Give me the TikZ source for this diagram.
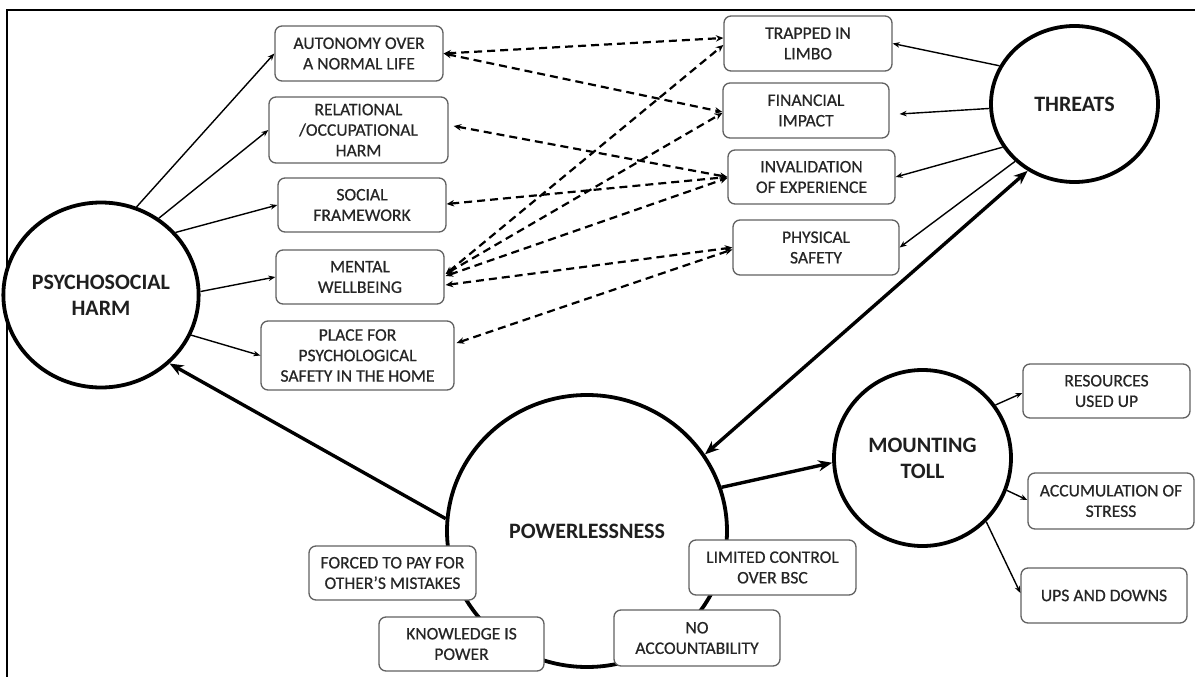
\documentclass[tikz,border=0pt]{standalone}
\usepackage{fontspec}
\setmainfont{Carlito}
\newfontfamily\boxfont{Carlito}[FakeBold=0.6]
\usetikzlibrary{arrows.meta,shapes.geometric}
\begin{document}
\begin{tikzpicture}[x=1pt,y=-1pt,
 box/.style={draw=black!62, line width=1.3pt, rounded corners=7pt, fill=white, align=center, inner sep=0pt, font=\boxfont\fontsize{17.6}{20.5}\selectfont, text=black!85},
 hub/.style={ellipse, draw=black, line width=3.8pt, fill=white, align=center, inner sep=0pt, font=\fontsize{22}{26}\selectfont\bfseries, text=black!88},
 thinarr/.style={-{Stealth[length=7pt,width=5.5pt]}, line width=1.4pt},
 thickarr/.style={-{Stealth[length=14pt,width=11pt]}, line width=3.4pt},
 dsh/.style={{Stealth[length=7.5pt,width=6.5pt]}-{Stealth[length=7.5pt,width=6.5pt]}, line width=2.2pt, dash pattern=on 8pt off 5pt},
 frame/.style={line width=1.6pt}
]
\useasboundingbox (0,0) rectangle (1195,677);
\coordinate (fb) at (7,677);
\coordinate (fc) at (7,10);
\coordinate (fr) at (1195,10);
\draw[frame] (fb) -- (fc) -- (fr);

% hubs
\node[hub, minimum width=176pt, minimum height=185pt] (psy) at (101,295) {PSYCHOSOCIAL\\HARM};
\node[hub, minimum width=167pt, minimum height=156pt] (thr) at (1074.5,104) {THREATS};
\node[hub, minimum width=280pt, minimum height=272pt] (pow) at (587,531) {POWERLESSNESS};
\node[hub, minimum width=177pt, minimum height=176pt] (mt) at (922.5,458) {MOUNTING\\TOLL};

% left boxes
\node[box, minimum width=168pt, minimum height=55pt] (auto) at (359,53.5) {AUTONOMY OVER\\A NORMAL LIFE};
\node[box, minimum width=179pt, minimum height=66pt] (rel) at (358.5,130) {RELATIONAL\\/OCCUPATIONAL\\HARM};
\node[box, minimum width=168pt, minimum height=54pt] (soc) at (362,205) {SOCIAL\\FRAMEWORK};
\node[box, minimum width=168pt, minimum height=54pt] (ment) at (360,277) {MENTAL\\WELLBEING};
\node[box, minimum width=193pt, minimum height=69pt] (place) at (357.5,355.5) {PLACE FOR\\PSYCHOLOGICAL\\SAFETY IN THE HOME};

% middle boxes
\node[box, minimum width=168pt, minimum height=55pt] (trap) at (808,43.5) {TRAPPED IN\\LIMBO};
\node[box, minimum width=166pt, minimum height=55pt] (fin) at (806,110.5) {FINANCIAL\\IMPACT};
\node[box, minimum width=167pt, minimum height=54pt] (inv) at (811.5,177) {INVALIDATION\\OF EXPERIENCE};
\node[box, minimum width=166pt, minimum height=55pt] (phys) at (816,247.5) {PHYSICAL\\SAFETY};

% powerlessness boxes
\node[box, minimum width=167pt, minimum height=54pt] (forced) at (392.5,573) {FORCED TO PAY FOR\\OTHER’S MISTAKES};
\node[box, minimum width=165pt, minimum height=54pt] (know) at (461.5,644) {KNOWLEDGE IS\\POWER};
\node[box, minimum width=166pt, minimum height=56pt] (noacc) at (697,638) {NO\\ACCOUNTABILITY};
\node[box, minimum width=167pt, minimum height=55pt] (lim) at (772.5,567.5) {LIMITED CONTROL\\OVER BSC};

% mounting toll boxes
\node[box, minimum width=167pt, minimum height=54pt] (res) at (1106.5,391) {RESOURCES\\USED UP};
\node[box, minimum width=166pt, minimum height=56pt] (acc) at (1111,501) {ACCUMULATION OF\\STRESS};
\node[box, minimum width=166pt, minimum height=55pt] (ups) at (1104,595.5) {UPS AND DOWNS};

% psychosocial harm arrows
\draw[thinarr] (psy.68) -- (auto.west);
\draw[thinarr] (psy.53) -- (rel.west);
\draw[thinarr] (psy.40) -- (soc.west);
\draw[thinarr] (psy.2) -- (ment.west);
\draw[thinarr] (psy.-24) -- (place.west);

% threats arrows
\draw[thinarr] (thr.153) -- (trap.east);
\draw[thinarr] (thr.183) -- ([xshift=10pt,yshift=-3.5pt]fin.east);
\draw[thinarr] (thr.211) -- (inv.east);
\draw[thinarr] (thr.224) -- (phys.east);

% thick arrows
\draw[thickarr, {Stealth[length=14pt,width=11pt]}-{Stealth[length=14pt,width=11pt]}] (pow.33) -- (thr.235);
\draw[thickarr] (pow.175) -- (psy.-45);
\draw[thickarr] (pow.18) -- (mt.183);

% mounting toll arrows
\draw[thinarr] (mt.36) -- ([yshift=-2pt]res.west);
\draw[thinarr] (mt.-21) -- ([yshift=1pt]acc.west);
\draw[thinarr] (mt.-45) -- ([yshift=2.5pt]ups.west);

% dashed links
\draw[dsh] (auto.east) -- ([yshift=5.5pt]trap.west);
\draw[dsh] (auto.east) -- ([yshift=-1.5pt]fin.west);
\draw[dsh] ([xshift=5pt,yshift=4pt]rel.east) -- (inv.west);
\draw[dsh] ([yshift=1pt]soc.east) -- (inv.west);
\draw[dsh] ([xshift=1pt,yshift=3pt]ment.east) -- ([yshift=-1.5pt]trap.west);
\draw[dsh] ([xshift=1pt,yshift=3pt]ment.east) -- ([yshift=-2.5pt]fin.west);
\draw[dsh] ([xshift=1pt,yshift=1pt]ment.east) -- ([yshift=-1pt]inv.west);
\draw[dsh] ([xshift=1pt,yshift=-8pt]ment.east) -- (phys.west);
\draw[dsh] ([xshift=2pt,yshift=12.5pt]place.east) -- ([yshift=-2pt]phys.west);
\end{tikzpicture}
\end{document}
